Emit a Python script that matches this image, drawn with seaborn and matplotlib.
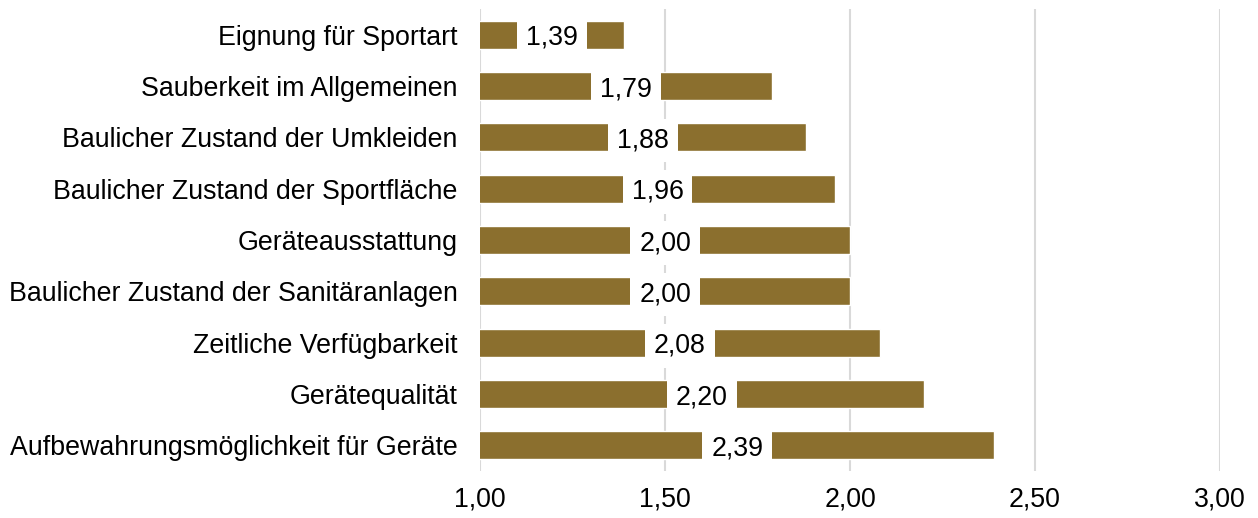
import matplotlib
matplotlib.use("Agg")
import matplotlib.pyplot as plt
import pandas as pd
import seaborn as sns

categories = [
    "Eignung für Sportart",
    "Sauberkeit im Allgemeinen",
    "Baulicher Zustand der Umkleiden",
    "Baulicher Zustand der Sportfläche",
    "Geräteausstattung",
    "Baulicher Zustand der Sanitäranlagen",
    "Zeitliche Verfügbarkeit",
    "Gerätequalität",
    "Aufbewahrungsmöglichkeit für Geräte",
]
values = [1.39, 1.79, 1.88, 1.96, 2.00, 2.00, 2.08, 2.20, 2.39]
x_ticks = [1.0, 1.5, 2.0, 2.5, 3.0]

df = pd.DataFrame({"Kategorie": categories, "Wert": values})

sns.set_style("white")
plt.rcParams["font.family"] = ["Liberation Sans", "DejaVu Sans"]

fig = plt.figure(figsize=(12.58, 5.18), dpi=100)
ax = fig.add_axes([0.3816, 0.0907, 0.5882, 0.8919])

bar_color = "#8B6F2E"
sns.barplot(data=df, x="Wert", y="Kategorie", orient="h", color=bar_color,
            saturation=1, width=0.55, ax=ax, zorder=2)

ax.set_xlim(1.0, 3.0)
ax.set_xticks(x_ticks)
ax.set_xticklabels([f"{t:.2f}".replace(".", ",") for t in x_ticks])
ax.xaxis.grid(True, color="#d9d9d9", linewidth=1.5, zorder=0)
ax.set_axisbelow(True)
ax.tick_params(axis="both", length=0, labelsize=19.3, colors="black")
ax.tick_params(axis="x", pad=11)
ax.tick_params(axis="y", pad=16)
ax.set_xlabel("")
ax.set_ylabel("")
for s in ax.spines.values():
    s.set_visible(False)

for i, v in enumerate(values):
    ax.text((1.0 + v) / 2, i, f"{v:.2f}".replace(".", ","), ha="center", va="center_baseline",
            fontsize=19.3, color="black", zorder=3,
            bbox=dict(boxstyle="square,pad=0.33", facecolor="white", edgecolor="none"))

fig.savefig("out.png", dpi=100)
